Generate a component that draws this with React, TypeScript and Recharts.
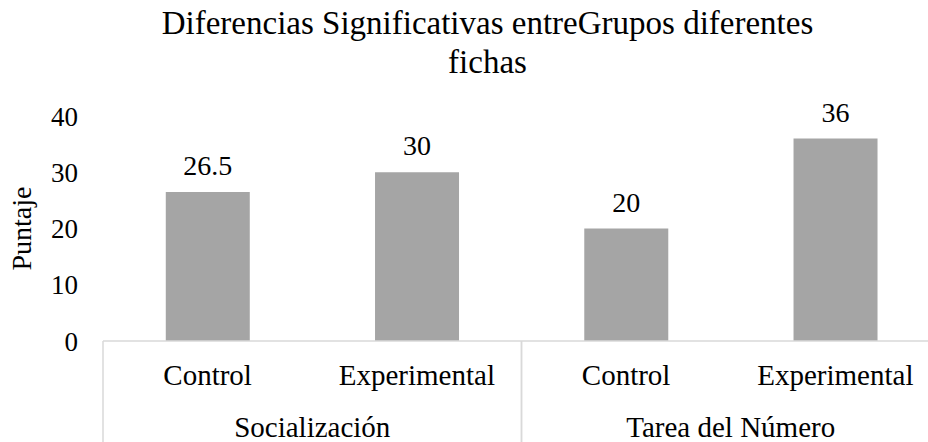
import React from 'react';
import { BarChart, Bar, XAxis, YAxis, LabelList } from 'recharts';

const categories = ['Control', 'Experimental', 'Control', 'Experimental'];
const groups = ['Socialización', 'Socialización', 'Tarea del Número', 'Tarea del Número'];
const puntaje = [26.5, 30, 20, 36];
const yTicks = [0, 10, 20, 30, 40];

const data = categories.map((c, i) => ({ key: String(i), name: c, group: groups[i], puntaje: puntaje[i] }));

const FONT = '"Liberation Serif", "Times New Roman", Tinos, serif';
const W = 950;
const H = 442;
const xAxisHeight = 101;
const margin = { top: 116, right: 10, left: 0, bottom: 0 };
const yAxisWidth = 103;
const plotW = W - margin.left - margin.right - yAxisWidth;
const band = plotW / data.length;
const axisY = H - margin.bottom - xAxisHeight;

function CategoryTick(props: any) {
    const { x, index } = props;
    const g = groups[index];
    const first = index === 0 || groups[index - 1] !== g;
    const last = index === groups.length - 1 || groups[index + 1] !== g;
    const size = groups.filter((v) => v === g).length;
    const left = x - band / 2;
    return (
        <g>
            <text x={x} y={385} textAnchor="middle" fontFamily={FONT} fontSize={29} fill="#000">
                {categories[index]}
            </text>
            {first && (
                <>
                    <line x1={left} y1={axisY} x2={left} y2={H} stroke="#d9d9d9" strokeWidth={1.5} />
                    <text x={left + (size * band) / 2} y={437} textAnchor="middle" fontFamily={FONT} fontSize={29} fill="#000">
                        {g}
                    </text>
                </>
            )}
            {last && <line x1={x + band / 2} y1={axisY} x2={x + band / 2} y2={H} stroke="#d9d9d9" strokeWidth={1.5} />}
        </g>
    );
}

function YLabel(props: any) {
    const { viewBox } = props;
    const cy = viewBox.y + viewBox.height / 2;
    return (
        <text x={31} y={cy} transform={`rotate(-90, 31, ${cy})`} textAnchor="middle" fontFamily={FONT} fontSize={28} fill="#000">
            Puntaje
        </text>
    );
}

export default function App() {
    return (
        <div style={{ position: 'absolute', left: 0, top: 0, width: 928, height: 442, overflow: 'hidden', background: '#fff' }}>
            <div
                style={{
                    position: 'absolute',
                    left: 0,
                    top: 4,
                    width: 975,
                    textAlign: 'center',
                    fontFamily: FONT,
                    fontSize: 33,
                    lineHeight: '39px',
                    color: '#000',
                }}
            >
                Diferencias Significativas entreGrupos diferentes
                <br />
                fichas
            </div>
            <BarChart width={W} height={H} data={data} margin={margin} barCategoryGap="30%">
                <XAxis
                    dataKey="key"
                    interval={0}
                    tickLine={false}
                    axisLine={{ stroke: '#d9d9d9', strokeWidth: 1.5 }}
                    height={xAxisHeight}
                    tick={<CategoryTick />}
                />
                <YAxis
                    width={yAxisWidth}
                    domain={[0, 40]}
                    ticks={yTicks}
                    interval={0}
                    axisLine={false}
                    tickLine={false}
                    tickMargin={19}
                    tick={{ fontFamily: FONT, fontSize: 27, fill: '#000' }}
                    label={<YLabel />}
                />
                <Bar dataKey="puntaje" fill="#a5a5a5" isAnimationActive={false}>
                    <LabelList dataKey="puntaje" position="top" offset={17} fontFamily={FONT} fontSize={28} fill="#000" />
                </Bar>
            </BarChart>
        </div>
    );
}
